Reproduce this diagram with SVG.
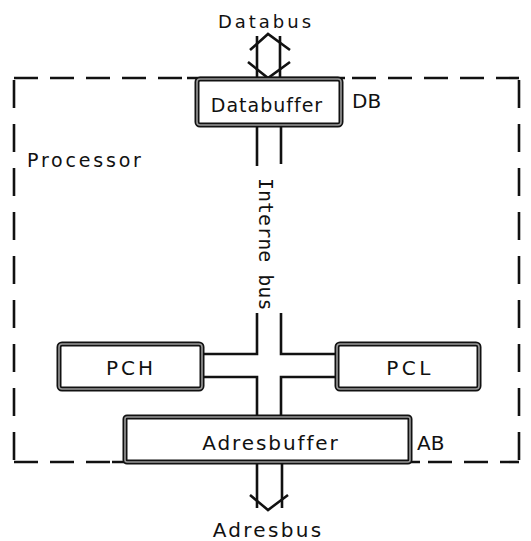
<svg xmlns="http://www.w3.org/2000/svg" width="531" height="541" viewBox="0 0 531 541">
<style>
  .t{font-family:"DejaVu Sans",sans-serif;fill:#111;}
  .box-o{fill:#fff;stroke:#111;stroke-width:5;}
  .box-i{fill:none;stroke:#9a9a9a;stroke-width:1.6;}
  .bus{fill:none;stroke:#111;stroke-width:2.6;stroke-linecap:butt;stroke-linejoin:miter;}
  .dashh{fill:none;stroke:#111;stroke-width:2.6;stroke-dasharray:24 12;}
  .dashv{fill:none;stroke:#111;stroke-width:2.6;stroke-dasharray:28 16;}
  .solid{fill:none;stroke:#111;stroke-width:2.6;}
</style>
<rect width="531" height="541" fill="#fff"/>
<g id="processor">
  <path class="dashh" d="M14,78 L187,78"/>
  <path class="solid" d="M187,78 L345,78"/>
  <path class="dashh" d="M352,78 L519,78"/>
  <path class="dashv" d="M14,80 L14,462"/>
  <path class="dashv" d="M519,80 L519,462"/>
  <path class="dashh" d="M14,462 L112,462"/>
  <path class="solid" d="M112,462 L420,462"/>
  <path class="dashh" d="M428,462 L519,462"/>
  <text class="t" x="27" y="167" font-size="19" letter-spacing="2.8">Processor</text>
</g>
<g id="connectors">
  <path class="bus" d="M257,36 L257,78 M280,36 L280,78"/>
  <path class="bus" d="M250,50 L268,34 L290,50"/>
  <path class="bus" d="M248,62 L268,78 L290,62"/>
  <path class="bus" d="M257,125 L257,166 M281,125 L281,164"/>
  <path class="bus" d="M257,313 L257,354 L202,354"/>
  <path class="bus" d="M281,313 L281,354 L337,354"/>
  <path class="bus" d="M202,377 L257,377 L257,417"/>
  <path class="bus" d="M337,377 L281,377 L281,417"/>
  <path class="bus" d="M257,462 L257,508 M282,462 L282,508"/>
  <path class="bus" d="M250,495 L268,510 L288,495"/>
  <text x="259" y="178" transform="rotate(90 259 178)" font-family="'DejaVu Sans Mono',monospace" font-size="20" fill="#111">Interne bus</text>
</g>
<g id="databuffer">
  <rect class="box-o" x="197" y="79" width="144" height="46" rx="3"/>
  <rect class="box-i" x="197" y="79" width="144" height="46" rx="3"/>
  <text class="t" x="267" y="112" font-size="19" letter-spacing="1" text-anchor="middle">Databuffer</text>
  <text class="t" x="352" y="108" font-size="20">DB</text>
</g>
<g id="pch">
  <rect class="box-o" x="59" y="344" width="143" height="45" rx="3"/>
  <rect class="box-i" x="59" y="344" width="143" height="45" rx="3"/>
  <text class="t" x="131" y="375" font-size="20" letter-spacing="3" text-anchor="middle">PCH</text>
</g>
<g id="pcl">
  <rect class="box-o" x="337" y="344" width="142" height="45" rx="3"/>
  <rect class="box-i" x="337" y="344" width="142" height="45" rx="3"/>
  <text class="t" x="410" y="375" font-size="20" letter-spacing="3.5" text-anchor="middle">PCL</text>
</g>
<g id="adresbuffer">
  <rect class="box-o" x="125" y="417" width="285" height="45" rx="2"/>
  <rect class="box-i" x="125" y="417" width="285" height="45" rx="2"/>
  <text class="t" x="271" y="450" font-size="20" letter-spacing="1.9" text-anchor="middle">Adresbuffer</text>
  <text class="t" x="417" y="450" font-size="20">AB</text>
</g>
<g id="labels">
  <text class="t" x="266" y="28" font-size="18" letter-spacing="3" text-anchor="middle">Databus</text>
  <text class="t" x="268" y="537" font-size="20" letter-spacing="2.3" text-anchor="middle">Adresbus</text>
</g>
</svg>
